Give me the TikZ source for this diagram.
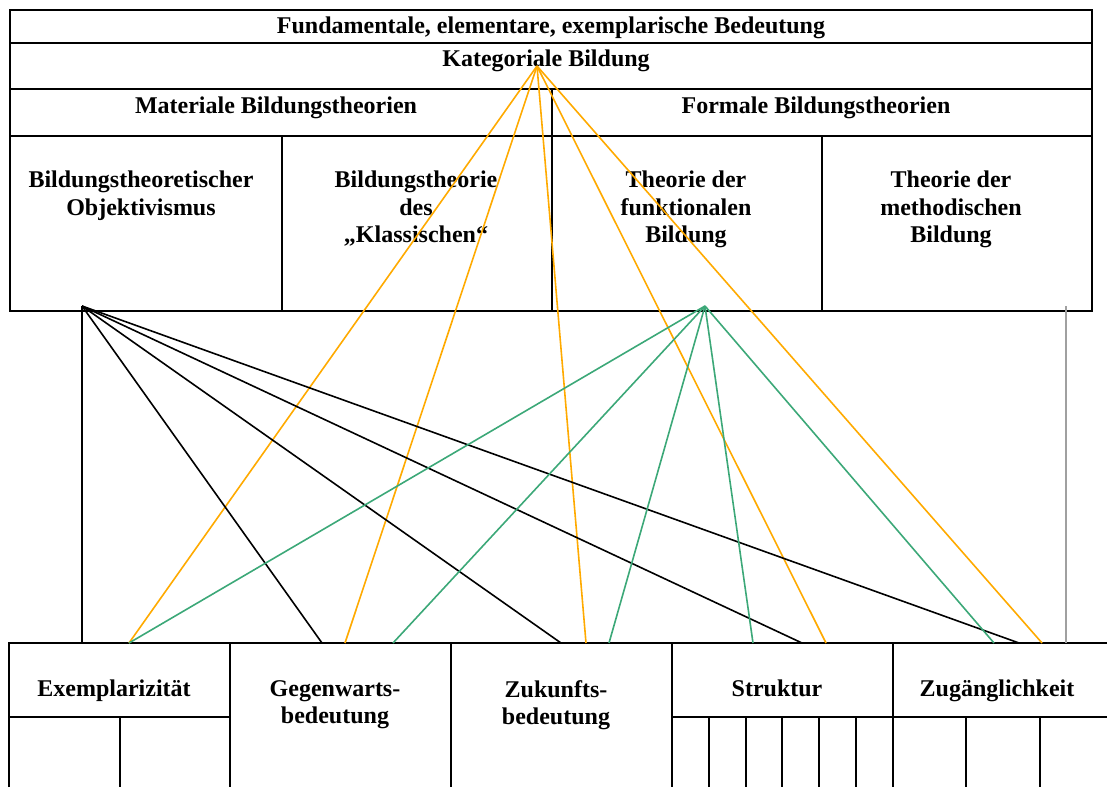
\documentclass[tikz,border=0pt]{standalone}
\usepackage{fontspec}
\setmainfont{Liberation Serif}
\usepackage{tikz}
\definecolor{katorange}{RGB}{255,170,0}
\definecolor{funkgreen}{RGB}{60,168,120}
\definecolor{methgray}{RGB}{160,160,160}

\begin{document}
\begin{tikzpicture}[x=1pt, y=-1pt,
    cell/.style={font=\fontsize{24}{27.5}\selectfont\bfseries, align=center, inner sep=0pt, anchor=north},
    rule/.style={line width=2pt},
    link/.style={line width=1.6pt}]
        \useasboundingbox (0,0) rectangle (1107,787);
        \clip (0,0) rectangle (1107,787);

        % Upper table
        \draw[rule] (10,10) rectangle (1092,311);
        \draw[rule] (10,43) -- (1092,43);
        \draw[rule] (10,89) -- (1092,89);
        \draw[rule] (10,136) -- (1092,136);
        \draw[rule] (552,89) -- (552,311);
        \draw[rule] (282,136) -- (282,311);
        \draw[rule] (822,136) -- (822,311);

        % Upper table texts
        \node[cell] (fund) at (551,17) {Fundamentale, elementare, exemplarische Bedeutung};
        \node[cell] (kat) at (546,50) {Kategoriale Bildung};
        \node[cell] (mat) at (276,97) {Materiale Bildungstheorien};
        \node[cell] (form) at (816,97) {Formale Bildungstheorien};
        \node[cell] (obj) at (141,171) {Bildungstheoretischer\\Objektivismus};
        \node[cell] (klass) at (416,171) {Bildungstheorie\\des\\„Klassischen“};
        \node[cell] (funk) at (686,171) {Theorie der\\funktionalen\\Bildung};
        \node[cell] (meth) at (951,171) {Theorie der\\methodischen\\Bildung};

        % Lower table
        \draw[rule] (9,787) -- (9,643) -- (1107,643);
        \draw[rule] (230,643) -- (230,787);
        \draw[rule] (451,643) -- (451,787);
        \draw[rule] (672,643) -- (672,787);
        \draw[rule] (893,643) -- (893,787);
        \draw[rule] (9,717) -- (230,717);
        \draw[rule] (120,717) -- (120,787);
        \draw[rule] (672,717) -- (1107,717);
        \draw[rule] (709,717) -- (709,787);
        \draw[rule] (746,717) -- (746,787);
        \draw[rule] (782,717) -- (782,787);
        \draw[rule] (819,717) -- (819,787);
        \draw[rule] (856,717) -- (856,787);
        \draw[rule] (966,717) -- (966,787);
        \draw[rule] (1040,717) -- (1040,787);

        % Lower table texts
        \node[cell] (exem) at (114,680) {Exemplarizität};
        \node[cell] (gegen) at (335,680) {Gegenwarts-\\bedeutung};
        \node[cell] (zuk) at (556,680) {Zukunfts-\\bedeutung};
        \node[cell] (struk) at (777,680) {Struktur};
        \node[cell] (zug) at (997,680) {Zugänglichkeit};

        % Start points
        \coordinate (katA) at (537,66);
        \coordinate (objA) at (82,306);
        \coordinate (funkA) at (705,306);
        \coordinate (methA) at (1066,306);

        % End points on the lower table
        \coordinate (exemB) at (82,643);
        \coordinate (exemO) at (129,643);
        \coordinate (gegenB) at (322,643);
        \coordinate (gegenO) at (345,643);
        \coordinate (gegenG) at (393,643);
        \coordinate (zukB) at (561,643);
        \coordinate (zukO) at (586,643);
        \coordinate (zukG) at (609,643);
        \coordinate (strukG) at (753,643);
        \coordinate (strukB) at (802,643);
        \coordinate (strukO) at (826,643);
        \coordinate (zugG) at (994,643);
        \coordinate (zugB) at (1019,643);
        \coordinate (zugO) at (1042,643);
        \coordinate (zugM) at (1066,643);

        % Kategoriale Bildung
        \draw[link, katorange] (katA) -- (exemO);
        \draw[link, katorange] (katA) -- (gegenO);
        \draw[link, katorange] (katA) -- (zukO);
        \draw[link, katorange] (katA) -- (strukO);
        \draw[link, katorange] (katA) -- (zugO);

        % Objektivismus
        \draw[link, black] (objA) -- (exemB);
        \draw[link, black] (objA) -- (gegenB);
        \draw[link, black] (objA) -- (zukB);
        \draw[link, black] (objA) -- (strukB);
        \draw[link, black] (objA) -- (zugB);

        % funktionale Bildung
        \draw[link, funkgreen] (funkA) -- (exemO);
        \draw[link, funkgreen] (funkA) -- (gegenG);
        \draw[link, funkgreen] (funkA) -- (zukG);
        \draw[link, funkgreen] (funkA) -- (strukG);
        \draw[link, funkgreen] (funkA) -- (zugG);

        % methodische Bildung
        \draw[link, methgray] (methA) -- (zugM);
    \end{tikzpicture}
\end{document}
